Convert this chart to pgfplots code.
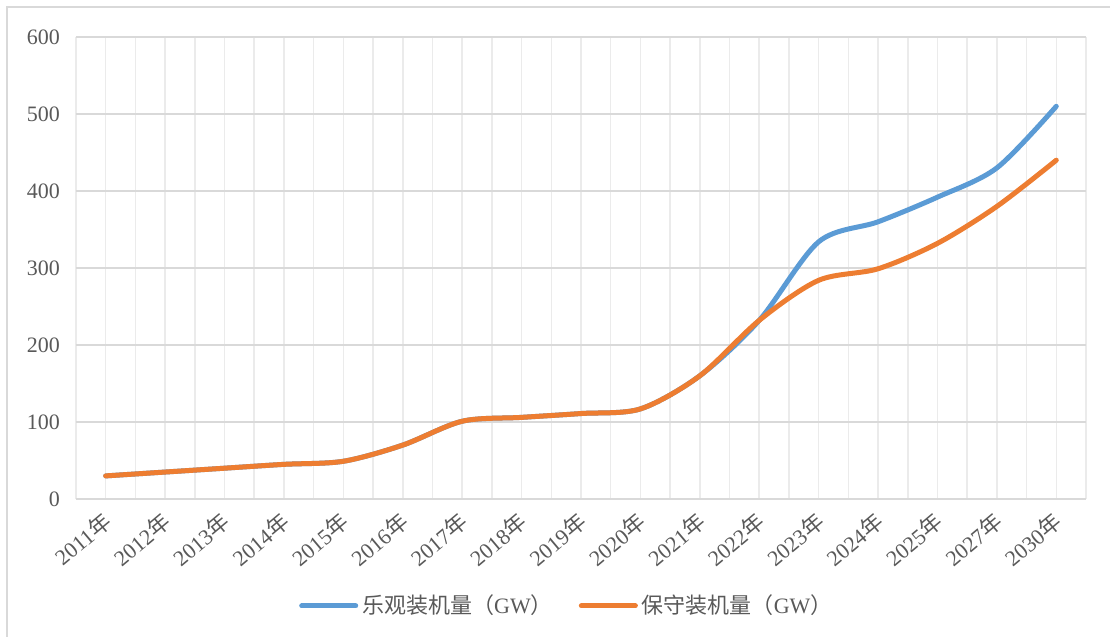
\documentclass[border=0pt]{standalone}
\usepackage{pgfplots}
\pgfplotsset{compat=1.18}
\usepackage{fontspec}
\setmainfont{Liberation Serif}
\newfontfamily\cjk{Noto Sans CJK SC}
\definecolor{lanse}{HTML}{5B9BD5}
\definecolor{chengse}{HTML}{ED7D31}
\definecolor{wenzi}{HTML}{595959}
\definecolor{gridh}{HTML}{D9D9D9}
\definecolor{gridv}{HTML}{EBEBEB}
\newcommand{\nian}[1]{#1{\cjk 年}}
\begin{document}
\begin{tikzpicture}
\useasboundingbox (0,0) rectangle (555pt,318.5pt);
\draw[gridh, line width=0.8pt] (3.5pt,0) -- (3.5pt,315pt) -- (555pt,315pt);
\begin{axis}[
    at={(38pt,69pt)}, anchor=south west,
    scale only axis, width=505pt, height=231pt,
    xmin=-0.5, xmax=16.5, ymin=0, ymax=600,
    xtick={0,...,16},
    xticklabels={\nian{2011},\nian{2012},\nian{2013},\nian{2014},\nian{2015},\nian{2016},
                 \nian{2017},\nian{2018},\nian{2019},\nian{2020},\nian{2021},\nian{2022},
                 \nian{2023},\nian{2024},\nian{2025},\nian{2027},\nian{2030}},
    minor xtick={-0.5,0,...,16.5},
    ytick={0,100,...,600},
    axis line style={draw=none},
    tick style={draw=none},
    xminorgrids, ymajorgrids,
    minor grid style={gridv, line width=0.75pt},
    major grid style={gridh, line width=0.75pt},
    ticklabel style={font=\fontsize{11}{13}\selectfont, text=wenzi},
    /pgf/number format/assume math mode=true,
    yticklabel style={xshift=-4.5pt},
    xticklabel style={rotate=40, anchor=east, yshift=-8pt, xshift=-2pt},
    legend columns=2,
    legend style={at={(0.487,-0.2316)}, anchor=center, draw=none, fill=none,
                  font=\fontsize{11}{13}\selectfont, text=wenzi,
                  /tikz/every even column/.append style={column sep=11pt}},
    legend image code/.code={\draw[#1, line width=2.5pt, line cap=round] (0pt,0pt) -- (27pt,0pt);},
]
\addplot[lanse, line width=2.5pt, smooth, line cap=round] coordinates {
    (0,30) (1,35) (2,40) (3,45) (4,49) (5,70) (6,101) (7,106) (8,111) (9,117)
    (10,160) (11,232) (12,334) (13,360) (14,392) (15,430) (16,510)};
\addlegendentry{{\cjk 乐观装机量（}GW{\cjk ）}}
\addplot[chengse, line width=2.5pt, smooth, line cap=round] coordinates {
    (0,30) (1,35) (2,40) (3,45) (4,49) (5,70) (6,101) (7,106) (8,111) (9,117)
    (10,160) (11,232) (12,284) (13,299) (14,332) (15,380) (16,440)};
\addlegendentry{{\cjk 保守装机量（}GW{\cjk ）}}
\end{axis}
\end{tikzpicture}
\end{document}
